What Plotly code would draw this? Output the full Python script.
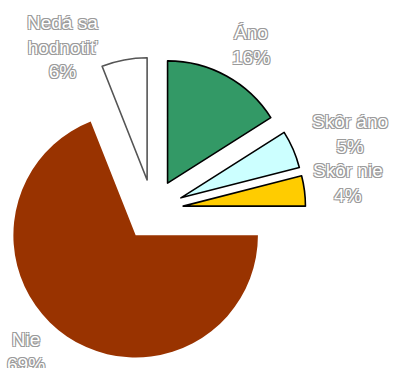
import plotly.graph_objects as go

# Survey answers (percent), clockwise from 12 o'clock
labels = ["Áno", "Skôr áno", "Skôr nie", "Nie", "Nedá sa hodnotiť"]
label_lines = ["Áno", "Skôr áno", "Skôr nie", "Nie", "Nedá sa<br>hodnotiť"]
values = [16, 5, 4, 69, 6]
colors = ["#339966", "#CCFFFF", "#FFCC00", "#993300", "#FFFFFF"]
edge_colors = ["#000000", "#000000", "#000000", "#993300", "#555555"]
edge_widths = [1.6, 1.6, 1.6, 0, 1.6]

# label anchor points in page pixels (x, y from top)
label_pos = [(251, 45), (350, 134), (348, 183), (26, 352), (62, 47)]

W, H = 397, 368

fig = go.Figure(
    go.Pie(
        labels=labels,
        values=values,
        sort=False,
        direction="clockwise",
        rotation=0,
        pull=[0.25] * len(values),
        marker=dict(colors=colors, line=dict(color=edge_colors, width=edge_widths)),
        textinfo="none",
        hoverinfo="label+percent",
        showlegend=False,
        domain=dict(x=[0, 0.77], y=[0.0048, 0.854]),
    )
)

# thin grey halo round white glyphs
outline = "#9A9A9A"
shadow = ", ".join(
    f"{dx}px {dy}px 0 {outline}" for dx, dy in [(-1, -1), (1, -1), (-1, 1), (1, 1)]
)

for name, v, (px, py) in zip(label_lines, values, label_pos):
    fig.add_annotation(
        x=px / W,
        y=1 - py / H,
        xref="paper",
        yref="paper",
        text=f"{name}<br>{v}%",
        showarrow=False,
        xanchor="center",
        yanchor="middle",
        align="center",
        font=dict(family="Liberation Sans, Arial, sans-serif", size=19, color="#FFFFFF", shadow=shadow),
    )

fig.update_layout(
    width=W,
    height=H,
    margin=dict(l=0, r=0, t=0, b=0),
    paper_bgcolor="#FFFFFF",
    plot_bgcolor="#FFFFFF",
)

fig.write_html("out.html")
